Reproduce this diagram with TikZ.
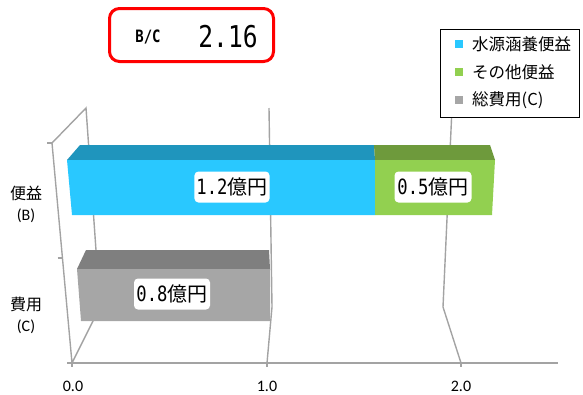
\documentclass[tikz,border=0pt]{standalone}
\usepackage{fontspec}
\setmainfont{Carlito}
\newfontfamily\jpfont{Noto Sans CJK JP}
\newfontfamily\gothnum[FakeStretch=0.82]{DejaVu Sans Mono}
\definecolor{waterblue}{HTML}{29C8FF}
\definecolor{waterbluetop}{HTML}{1F95BD}
\definecolor{othergreen}{HTML}{92D050}
\definecolor{othergreentop}{HTML}{6E9A3C}
\definecolor{costgray}{HTML}{A6A6A6}
\definecolor{costgraytop}{HTML}{7F7F7F}
\definecolor{gridgray}{HTML}{A3A3A3}
\newcommand\valtext[1]{{\gothnum\fontsize{21}{24}\selectfont #1}{\jpfont\fontsize{20}{24}\selectfont 億円}}
\newcommand\catname[2]{{\jpfont\fontsize{16}{20}\selectfont #1}\\{\fontsize{16}{20}\selectfont #2}}

\begin{document}
\begin{tikzpicture}[x=1pt,y=-1pt,
                grid/.style={draw=gridgray,line width=1.4pt},
                valuebox/.style={fill=white,rounded corners=4pt,minimum height=31pt,inner sep=2pt},
                catlabel/.style={align=center,font=\fontsize{16}{21}\selectfont},
                ticklabel/.style={font=\fontsize{16}{18}\selectfont},
                legendkey/.style={fill=#1,minimum size=8pt,inner sep=0pt},
                legendtext/.style={anchor=west,inner sep=0pt,font=\jpfont\fontsize{16.5}{18}\selectfont}]
                \useasboundingbox (0,0) rectangle (583,394);

                % walls and floor
                \draw[grid] (52,143) -- (86,108) -- (100,307) -- (72,363) -- cycle;
                \draw[grid] (269,108) -- (272,307) -- (267,363);
                \draw[grid] (452,108) -- (443,307) -- (461,363);
                \draw[grid] (68,363) -- (558,363);
                \foreach \x in {72,267,461}
                    \draw[grid] (\x,363) -- (\x,367);
                \foreach \x/\y in {52/143,62.5/258,72/363}
                    \draw[grid] ({\x-5},\y) -- (\x,\y);

                % benefit bar
                \fill[waterbluetop] (67,160) -- (80,145) -- (374,145) -- (375,160) -- cycle;
                \fill[waterblue] (67,160) -- (375,160) -- (375,215) -- (72,215) -- cycle;
                \fill[othergreentop] (374,145) -- (490,145) -- (495,160) -- (375,160) -- cycle;
                \fill[othergreen] (375,160) -- (495,160) -- (492,215) -- (375,215) -- cycle;

                % cost bar
                \fill[costgraytop] (77,269) -- (86,250) -- (269,250) -- (270,269) -- cycle;
                \fill[costgray] (77,269) -- (270,269) -- (270,321) -- (81,321) -- cycle;

                \node[valuebox,minimum width=75pt] (water) at (232,187) {\valtext{1.2}};
                \node[valuebox,minimum width=77pt] (other) at (433,187) {\valtext{0.5}};
                \node[valuebox,minimum width=76pt] (cost) at (172,294) {\valtext{0.8}};

                \node[catlabel] (benefit) at (26,204) {\catname{便益}{(B)}};
                \node[catlabel] (costs) at (26,315) {\catname{費用}{(C)}};

                \node[ticklabel] (t0) at (73,386) {0.0};
                \node[ticklabel] (t1) at (267,386) {1.0};
                \node[ticklabel] (t2) at (461,386) {2.0};

                % B/C
                \node[draw=red,line width=3pt,rounded corners=10pt,minimum width=164pt,minimum height=53pt,inner sep=0pt] (bcbox) at (191.5,35) {};
                \node (bclabel) at (148,37) {\gothnum\bfseries\fontsize{17}{20}\selectfont B/C};
                \node (bcvalue) at (228,37) {\gothnum\fontsize{30}{32}\selectfont 2.16};

                % legend
                \node[draw=black,fill=white,line width=0.8pt,minimum width=139pt,minimum height=88pt,inner sep=0pt] (legend) at (509.5,73) {};
                \foreach \y/\c/\t [count=\i] in {44/waterblue/水源涵養便益,72/othergreen/その他便益,100/costgray/総費用(C)}{
                    \node[legendkey=\c] (key\i) at (459,\y) {};
                    \node[legendtext] (entry\i) at (472,\y) {\t};
                }
            \end{tikzpicture}
\end{document}
